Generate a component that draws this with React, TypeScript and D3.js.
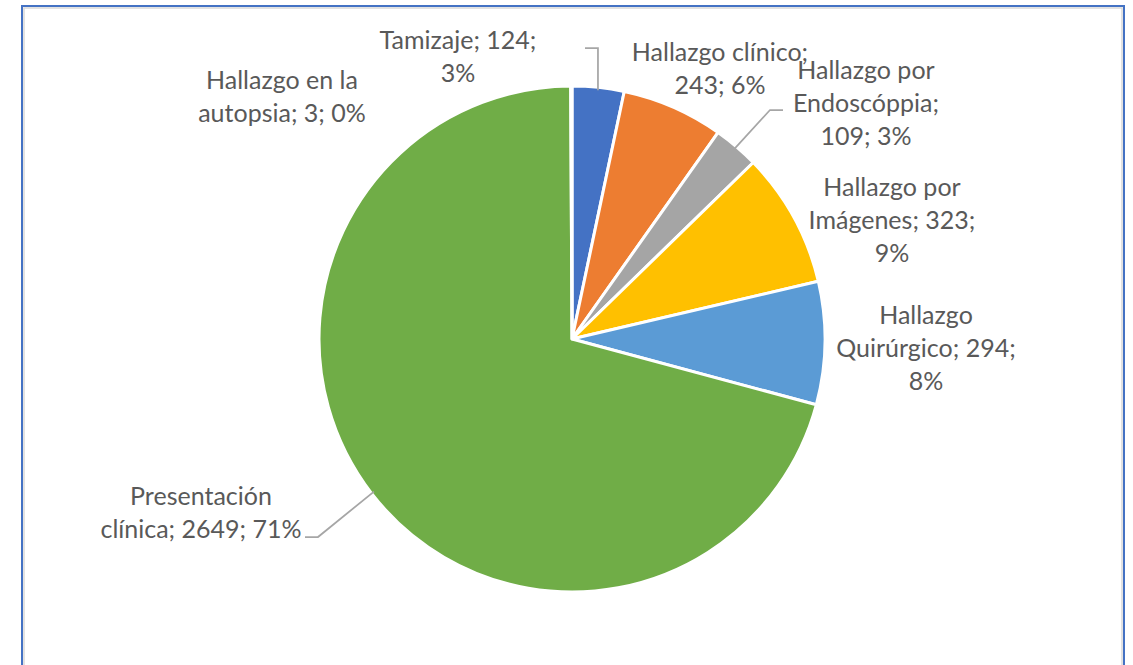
import React from "react";
import * as d3 from "d3";

const categories = [
  "Tamizaje",
  "Hallazgo clínico",
  "Hallazgo por Endoscóppia",
  "Hallazgo por Imágenes",
  "Hallazgo Quirúrgico",
  "Presentación clínica",
  "Hallazgo en la autopsia",
];
const values = [124, 243, 109, 323, 294, 2649, 3];
const percents = ["3%", "6%", "3%", "9%", "8%", "71%", "0%"];
const colors = ["#4472C4", "#ED7D31", "#A5A5A5", "#FFC000", "#5B9BD5", "#70AD47", "#264478"];

// label text lines
const labelLines = [
  ["Tamizaje; 124;", "3%"],
  ["Hallazgo clínico;", "243; 6%"],
  ["Hallazgo por", "Endoscóppia;", "109; 3%"],
  ["Hallazgo por", "Imágenes; 323;", "9%"],
  ["Hallazgo", "Quirúrgico; 294;", "8%"],
  ["Presentación", "clínica; 2649; 71%"],
  ["Hallazgo en la", "autopsia; 3; 0%"],
];

// layout (positions of label blocks: center x, first baseline y)
const labelPos = [
  { x: 458, y: 49 },
  { x: 720, y: 61 },
  { x: 866, y: 79 },
  { x: 892, y: 196 },
  { x: 926, y: 324 },
  { x: 201, y: 505 },
  { x: 282, y: 89 },
];
// leader lines: elbow and end points (null = no leader)
const leaders: ({ elbow: [number, number]; end: [number, number] } | null)[] = [
  { elbow: [0, 48], end: [585, 48] },
  null,
  { elbow: [770, 110], end: [783, 110] },
  null,
  null,
  { elbow: [318, 537], end: [305, 537] },
  null,
];

const W = 1133;
const H = 665;
const cx = 572;
const cy = 339;
const R = 253;

export default function App() {
  const pie = d3
    .pie<number>()
    .sort(null)
    .startAngle(0)
    .endAngle(2 * Math.PI)
    .value((d) => d);
  const arcs = pie(values);
  const arcGen = d3.arc<d3.PieArcDatum<number>>().innerRadius(0).outerRadius(R);
  const lineHeight = 33;

  return (
    <svg
      width={W}
      height={H}
      style={{ position: "absolute", left: 0, top: 0, background: "#fff" }}
      fontFamily="Lato, 'Open Sans', sans-serif"
    >
      <rect x={0} y={0} width={W} height={H} fill="#fff" />
      {/* frame */}
      <rect x={24} y={8} width={1098} height={H + 20} fill="none" stroke="#D9D9D9" strokeWidth={1.5} />
      <rect x={22} y={6} width={1102} height={H + 20} fill="none" stroke="#4472C4" strokeWidth={2} />
      <g transform={`translate(${cx},${cy})`}>
        {arcs.map((a, i) => (
          <path key={i} d={arcGen(a) || ""} fill={colors[i]} stroke="#fff" strokeWidth={3} strokeLinejoin="round" />
        ))}
      </g>
      {arcs.map((a, i) => {
        const L = leaders[i];
        if (!L) return null;
        const mid = (a.startAngle + a.endAngle) / 2;
        const sx = cx + (R - 3) * Math.sin(mid);
        const sy = cy - (R - 3) * Math.cos(mid);
        const ex = L.elbow[0] === 0 ? sx : L.elbow[0];
        const pts: [number, number][] = [
          [sx, sy],
          [ex, L.elbow[1]],
          L.end,
        ];
        return (
          <path
            key={"l" + i}
            d={d3.line()(pts) || ""}
            fill="none"
            stroke="#A6A6A6"
            strokeWidth={1.75}
          />
        );
      })}
      {labelLines.map((lines, i) => (
        <text
          key={"t" + i}
          x={labelPos[i].x}
          y={labelPos[i].y}
          textAnchor="middle"
          fontSize={25}
          fill="#595959"
        >
          {lines.map((ln, j) => (
            <tspan key={j} x={labelPos[i].x} y={labelPos[i].y + j * lineHeight}>
              {ln}
            </tspan>
          ))}
        </text>
      ))}
    </svg>
  );
}
